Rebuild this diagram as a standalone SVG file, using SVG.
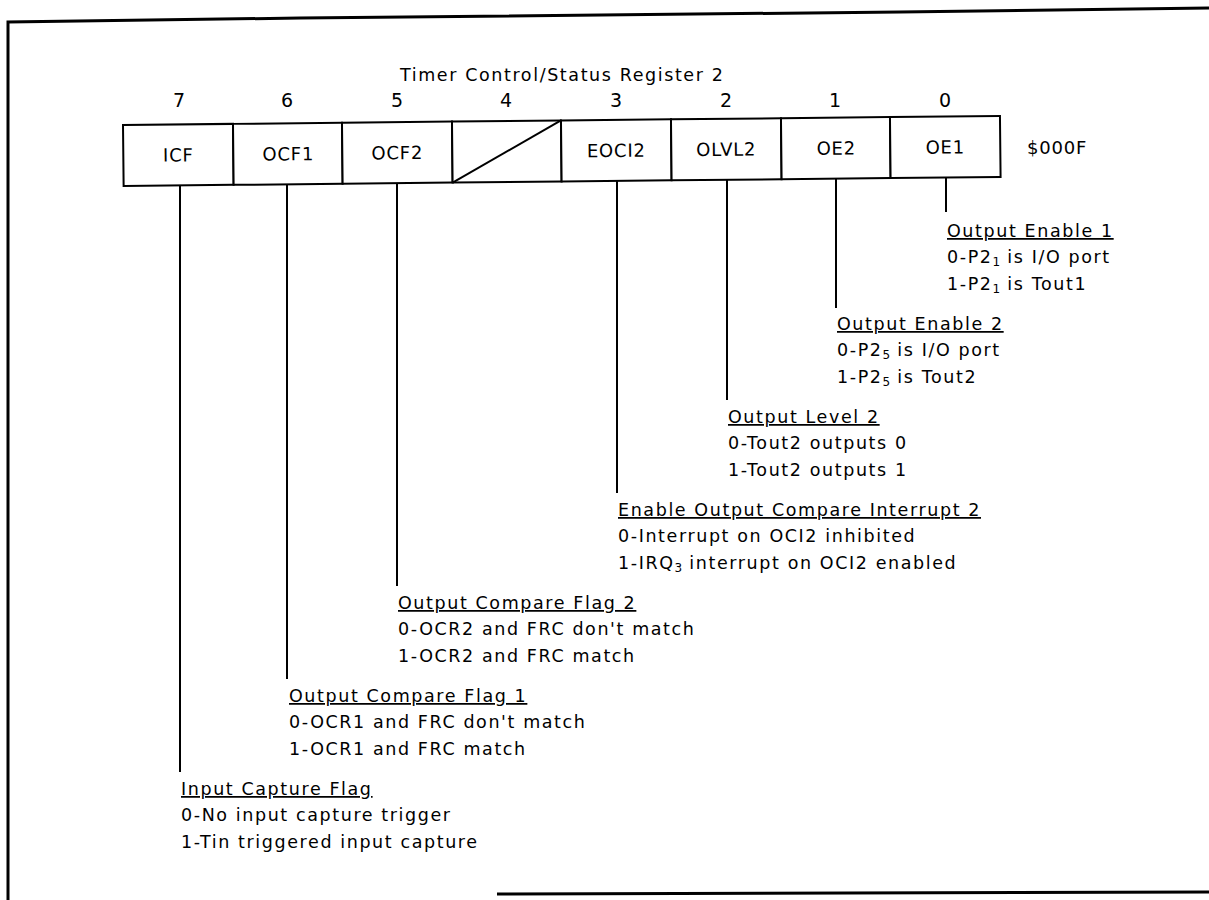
<svg xmlns="http://www.w3.org/2000/svg" width="1209" height="900" viewBox="0 0 1209 900">
<style>
  .t { font-family: "DejaVu Sans", "Liberation Sans", sans-serif; font-size: 17.5px; letter-spacing: 1.6px; fill: #000; }
  .hd { text-decoration: underline; }
  .cell { font-family: "DejaVu Sans", "Liberation Sans", sans-serif; font-size: 18px; letter-spacing: 0.8px; fill: #000; text-anchor: middle; }
  .bit { font-family: "DejaVu Sans", "Liberation Sans", sans-serif; font-size: 19px; fill: #000; text-anchor: middle; }
  .sub { font-size: 12px; letter-spacing: 0; }
  .frame { fill: none; stroke: #000; stroke-width: 3; }
  .box { fill: #fff; stroke: #000; stroke-width: 2; }
  .ln { stroke: #000; stroke-width: 2; fill: none; }
</style>
<rect width="1209" height="900" fill="#fff"/>
<g id="frame">
  <polyline class="frame" points="8,900 8,22 300,18 900,12 1209,8"/>
  <line class="frame" x1="497" y1="894" x2="1209" y2="892"/>
</g>
<text class="t" x="400" y="81">Timer Control/Status Register 2</text>
<g id="bits">
  <text class="bit" x="179" y="107">7</text>
  <text class="bit" x="287" y="107">6</text>
  <text class="bit" x="397" y="107">5</text>
  <text class="bit" x="506" y="107">4</text>
  <text class="bit" x="616" y="107">3</text>
  <text class="bit" x="726" y="107">2</text>
  <text class="bit" x="835" y="107">1</text>
  <text class="bit" x="945" y="107">0</text>
</g>
<g id="register" transform="rotate(-0.59 123 125)">
  <g id="cell-icf"><rect class="box" x="123" y="125" width="110" height="61"/><text class="cell" x="178" y="162">ICF</text></g>
  <g id="cell-ocf1"><rect class="box" x="233" y="125" width="109" height="61"/><text class="cell" x="288" y="162">OCF1</text></g>
  <g id="cell-ocf2"><rect class="box" x="342" y="125" width="110" height="61"/><text class="cell" x="397" y="162">OCF2</text></g>
  <g id="cell-4"><rect class="box" x="452" y="125" width="109" height="61"/><line class="ln" x1="452" y1="186" x2="561" y2="125"/></g>
  <g id="cell-eoci2"><rect class="box" x="561" y="125" width="110" height="61"/><text class="cell" x="616" y="162">EOCI2</text></g>
  <g id="cell-olvl2"><rect class="box" x="671" y="125" width="110" height="61"/><text class="cell" x="726" y="162">OLVL2</text></g>
  <g id="cell-oe2"><rect class="box" x="781" y="125" width="109" height="61"/><text class="cell" x="836" y="162">OE2</text></g>
  <g id="cell-oe1"><rect class="box" x="890" y="125" width="110" height="61"/><text class="cell" x="945" y="162">OE1</text></g>
</g>
<text class="cell" x="1057" y="154">$000F</text>
<g id="connectors">
  <line class="ln" x1="946" y1="177.5" x2="946" y2="212"/>
  <line class="ln" x1="836" y1="178.7" x2="836" y2="308"/>
  <line class="ln" x1="727" y1="179.8" x2="727" y2="400"/>
  <line class="ln" x1="617" y1="180.9" x2="617" y2="493"/>
  <line class="ln" x1="397" y1="183.2" x2="397" y2="586"/>
  <line class="ln" x1="287" y1="184.3" x2="287" y2="679"/>
  <line class="ln" x1="180" y1="185.4" x2="180" y2="772"/>
</g>
<g id="desc-oe1">
  <text class="t hd" x="947" y="237">Output Enable 1</text>
  <text class="t" x="947" y="263">0-P2<tspan class="sub" dy="3">1</tspan><tspan dy="-3"> is I/O port</tspan></text>
  <text class="t" x="947" y="290">1-P2<tspan class="sub" dy="3">1</tspan><tspan dy="-3"> is Tout1</tspan></text>
</g>
<g id="desc-oe2">
  <text class="t hd" x="837" y="330">Output Enable 2</text>
  <text class="t" x="837" y="356">0-P2<tspan class="sub" dy="3">5</tspan><tspan dy="-3"> is I/O port</tspan></text>
  <text class="t" x="837" y="383">1-P2<tspan class="sub" dy="3">5</tspan><tspan dy="-3"> is Tout2</tspan></text>
</g>
<g id="desc-olvl2">
  <text class="t hd" x="728" y="423">Output Level 2</text>
  <text class="t" x="728" y="449">0-Tout2 outputs 0</text>
  <text class="t" x="728" y="476">1-Tout2 outputs 1</text>
</g>
<g id="desc-eoci2">
  <text class="t hd" x="618" y="516">Enable Output Compare Interrupt 2</text>
  <text class="t" x="618" y="542">0-Interrupt on OCI2 inhibited</text>
  <text class="t" x="618" y="569">1-IRQ<tspan class="sub" dy="3">3</tspan><tspan dy="-3"> interrupt on OCI2 enabled</tspan></text>
</g>
<g id="desc-ocf2">
  <text class="t hd" x="398" y="609">Output Compare Flag 2</text>
  <text class="t" x="398" y="635">0-OCR2 and FRC don't match</text>
  <text class="t" x="398" y="662">1-OCR2 and FRC match</text>
</g>
<g id="desc-ocf1">
  <text class="t hd" x="289" y="702">Output Compare Flag 1</text>
  <text class="t" x="289" y="728">0-OCR1 and FRC don't match</text>
  <text class="t" x="289" y="755">1-OCR1 and FRC match</text>
</g>
<g id="desc-icf">
  <text class="t hd" x="181" y="795">Input Capture Flag</text>
  <text class="t" x="181" y="821">0-No input capture trigger</text>
  <text class="t" x="181" y="848">1-Tin triggered input capture</text>
</g>
</svg>
